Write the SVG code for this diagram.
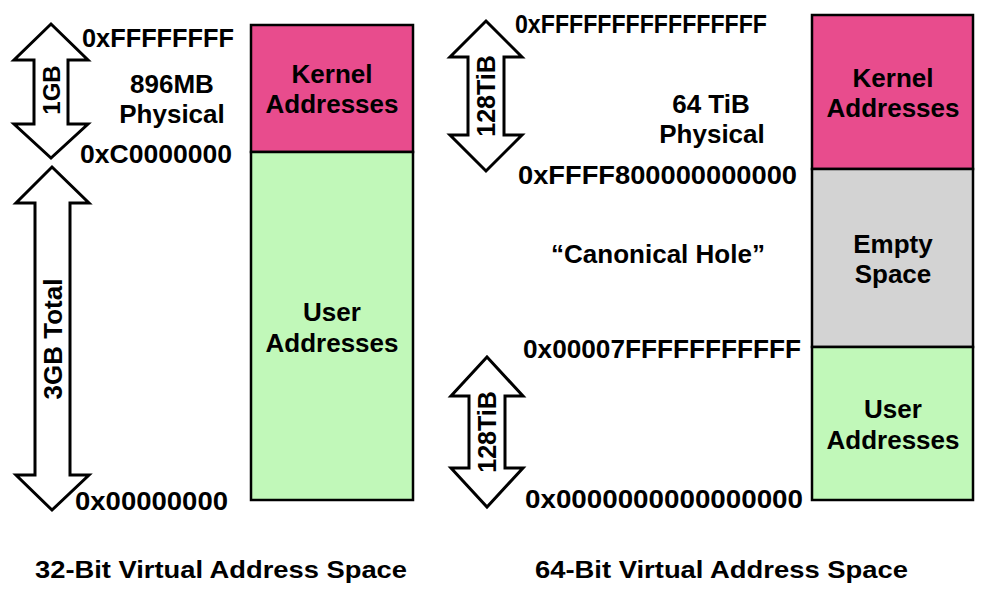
<svg xmlns="http://www.w3.org/2000/svg" width="1000" height="591" viewBox="0 0 1000 591">
<style>
text{font-family:"Liberation Sans",Arial,sans-serif;font-weight:bold;fill:#000}
.t{font-size:26px}
.c{text-anchor:middle}
.box{stroke:#000;stroke-width:2.5}
.arr{fill:#fff;stroke:#000;stroke-width:3;stroke-linejoin:miter}
.kern{fill:#E84C8D}
.user{fill:#C1F8B9}
.empty{fill:#D3D3D3}
</style>
<rect width="1000" height="591" fill="#fff"/>

<g id="left-space">
  <g id="left-kernel">
    <rect class="box kern" x="251" y="25" width="162" height="127"/>
    <text class="t c" x="332" y="83">Kernel</text>
    <text class="t c" x="332" y="113">Addresses</text>
  </g>
  <g id="left-user">
    <rect class="box user" x="251" y="152" width="162" height="348"/>
    <text class="t c" x="332" y="321">User</text>
    <text class="t c" x="332" y="352">Addresses</text>
  </g>
  <g id="left-arrow-1gb">
    <polygon class="arr" points="51,24 88,60 68,60 68,124 88,124 51,158 14,124 34,124 34,60 14,60"/>
    <text class="c" font-size="24" transform="translate(60,90) rotate(-90)">1GB</text>
  </g>
  <g id="left-arrow-3gb">
    <polygon class="arr" points="52,167 89,203 70,203 70,475 89,475 52,510 16,475 35,475 35,203 16,203"/>
    <text class="c" font-size="26" transform="translate(62,339) rotate(-90)">3GB Total</text>
  </g>
  <g id="left-labels">
    <text class="t" x="82" y="47" textLength="152" lengthAdjust="spacingAndGlyphs">0xFFFFFFFF</text>
    <text class="t c" x="172" y="93">896MB</text>
    <text class="t c" x="172" y="123">Physical</text>
    <text class="t" x="80" y="163" textLength="152" lengthAdjust="spacingAndGlyphs">0xC0000000</text>
    <text class="t" x="75" y="510" textLength="153" lengthAdjust="spacingAndGlyphs">0x00000000</text>
    <text x="35" y="578" font-size="24" textLength="372" lengthAdjust="spacingAndGlyphs">32-Bit Virtual Address Space</text>
  </g>
</g>

<g id="right-space">
  <g id="right-kernel">
    <rect class="box kern" x="812" y="15" width="161" height="154"/>
    <text class="t c" x="893" y="87">Kernel</text>
    <text class="t c" x="893" y="117">Addresses</text>
  </g>
  <g id="right-empty">
    <rect class="box empty" x="812" y="169" width="161" height="178"/>
    <text class="t c" x="893" y="253">Empty</text>
    <text class="t c" x="893" y="283">Space</text>
  </g>
  <g id="right-user">
    <rect class="box user" x="812" y="347" width="161" height="153"/>
    <text class="t c" x="893" y="418">User</text>
    <text class="t c" x="893" y="449">Addresses</text>
  </g>
  <g id="right-arrow-top">
    <polygon class="arr" points="486,21 522,57 504,57 504,135 522,135 486,171 450,135 468,135 468,57 450,57"/>
    <text class="c" font-size="25" transform="translate(495,96) rotate(-90)">128TiB</text>
  </g>
  <g id="right-arrow-bottom">
    <polygon class="arr" points="487,357 523,396 505,396 505,468 523,468 487,507 451,468 469,468 469,396 451,396"/>
    <text class="c" font-size="25" transform="translate(496,432) rotate(-90)">128TiB</text>
  </g>
  <g id="right-labels">
    <text class="t" x="515" y="33" textLength="252" lengthAdjust="spacingAndGlyphs">0xFFFFFFFFFFFFFFFF</text>
    <text class="t c" x="711" y="113">64 TiB</text>
    <text class="t c" x="712" y="143">Physical</text>
    <text class="t" x="518" y="184" textLength="279" lengthAdjust="spacingAndGlyphs">0xFFFF800000000000</text>
    <text class="t c" x="658" y="263">“Canonical Hole”</text>
    <text class="t" x="523" y="358" textLength="278" lengthAdjust="spacingAndGlyphs">0x00007FFFFFFFFFFF</text>
    <text class="t" x="525" y="508" textLength="278" lengthAdjust="spacingAndGlyphs">0x0000000000000000</text>
    <text x="535" y="578" font-size="24" textLength="373" lengthAdjust="spacingAndGlyphs">64-Bit Virtual Address Space</text>
  </g>
</g>
</svg>
